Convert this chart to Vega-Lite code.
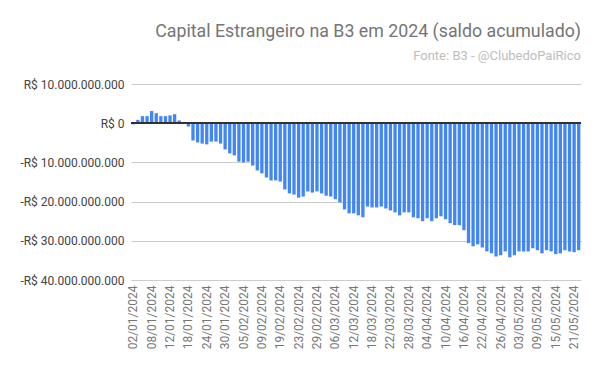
{
  "$schema": "https://vega.github.io/schema/vega-lite/v6.json",
  "width": 450,
  "height": 196,
  "autosize": {"type": "none"},
  "padding": {"left": 131, "top": 84, "right": 19, "bottom": 91},
  "background": "white",
  "title": {
    "text": "Capital Estrangeiro na B3 em 2024 (saldo acumulado)",
    "subtitle": "Fonte: B3 - @ClubedoPaiRico",
    "anchor": "end",
    "frame": "group",
    "font": "Roboto",
    "fontSize": 17.8,
    "fontWeight": "normal",
    "color": "#757575",
    "subtitleFont": "Roboto",
    "subtitleFontSize": 13,
    "subtitleColor": "#bdbdbd",
    "subtitlePadding": 9,
    "offset": 15
  },
  "config": {
    "view": {"stroke": null},
    "locale": {
      "number": {"decimal": ",", "thousands": ".", "grouping": [3], "currency": ["R$ ", ""], "minus": "-"}
    }
  },
  "data": {
    "values": [
      {"data": "02/01/2024", "saldo": -300000000},
      {"data": "03/01/2024", "saldo": 850000000},
      {"data": "04/01/2024", "saldo": 1800000000},
      {"data": "05/01/2024", "saldo": 1800000000},
      {"data": "08/01/2024", "saldo": 3100000000},
      {"data": "09/01/2024", "saldo": 2550000000},
      {"data": "10/01/2024", "saldo": 1800000000},
      {"data": "11/01/2024", "saldo": 1800000000},
      {"data": "12/01/2024", "saldo": 2000000000},
      {"data": "15/01/2024", "saldo": 2300000000},
      {"data": "16/01/2024", "saldo": 700000000},
      {"data": "17/01/2024", "saldo": -100000000},
      {"data": "18/01/2024", "saldo": -850000000},
      {"data": "19/01/2024", "saldo": -4400000000},
      {"data": "22/01/2024", "saldo": -4900000000},
      {"data": "23/01/2024", "saldo": -5200000000},
      {"data": "24/01/2024", "saldo": -5400000000},
      {"data": "25/01/2024", "saldo": -4700000000},
      {"data": "26/01/2024", "saldo": -4700000000},
      {"data": "29/01/2024", "saldo": -5200000000},
      {"data": "30/01/2024", "saldo": -6700000000},
      {"data": "31/01/2024", "saldo": -7700000000},
      {"data": "01/02/2024", "saldo": -8200000000},
      {"data": "02/02/2024", "saldo": -9800000000},
      {"data": "05/02/2024", "saldo": -10000000000},
      {"data": "06/02/2024", "saldo": -9800000000},
      {"data": "07/02/2024", "saldo": -10800000000},
      {"data": "08/02/2024", "saldo": -12050000000},
      {"data": "09/02/2024", "saldo": -12800000000},
      {"data": "14/02/2024", "saldo": -13850000000},
      {"data": "15/02/2024", "saldo": -14600000000},
      {"data": "16/02/2024", "saldo": -14600000000},
      {"data": "19/02/2024", "saldo": -14900000000},
      {"data": "20/02/2024", "saldo": -16900000000},
      {"data": "21/02/2024", "saldo": -17900000000},
      {"data": "22/02/2024", "saldo": -18200000000},
      {"data": "23/02/2024", "saldo": -19000000000},
      {"data": "26/02/2024", "saldo": -18700000000},
      {"data": "27/02/2024", "saldo": -17400000000},
      {"data": "28/02/2024", "saldo": -17700000000},
      {"data": "29/02/2024", "saldo": -17400000000},
      {"data": "01/03/2024", "saldo": -17900000000},
      {"data": "04/03/2024", "saldo": -18500000000},
      {"data": "05/03/2024", "saldo": -18700000000},
      {"data": "06/03/2024", "saldo": -19400000000},
      {"data": "07/03/2024", "saldo": -20200000000},
      {"data": "08/03/2024", "saldo": -22000000000},
      {"data": "11/03/2024", "saldo": -23000000000},
      {"data": "12/03/2024", "saldo": -23000000000},
      {"data": "13/03/2024", "saldo": -23500000000},
      {"data": "14/03/2024", "saldo": -24000000000},
      {"data": "15/03/2024", "saldo": -21250000000},
      {"data": "18/03/2024", "saldo": -21500000000},
      {"data": "19/03/2024", "saldo": -21500000000},
      {"data": "20/03/2024", "saldo": -21250000000},
      {"data": "21/03/2024", "saldo": -21750000000},
      {"data": "22/03/2024", "saldo": -22250000000},
      {"data": "25/03/2024", "saldo": -22750000000},
      {"data": "26/03/2024", "saldo": -23500000000},
      {"data": "27/03/2024", "saldo": -22750000000},
      {"data": "28/03/2024", "saldo": -22750000000},
      {"data": "01/04/2024", "saldo": -24000000000},
      {"data": "02/04/2024", "saldo": -24250000000},
      {"data": "03/04/2024", "saldo": -25000000000},
      {"data": "04/04/2024", "saldo": -24250000000},
      {"data": "05/04/2024", "saldo": -25000000000},
      {"data": "08/04/2024", "saldo": -24250000000},
      {"data": "09/04/2024", "saldo": -23750000000},
      {"data": "10/04/2024", "saldo": -24500000000},
      {"data": "11/04/2024", "saldo": -25500000000},
      {"data": "12/04/2024", "saldo": -26000000000},
      {"data": "15/04/2024", "saldo": -26000000000},
      {"data": "16/04/2024", "saldo": -27300000000},
      {"data": "17/04/2024", "saldo": -30600000000},
      {"data": "18/04/2024", "saldo": -31400000000},
      {"data": "19/04/2024", "saldo": -30900000000},
      {"data": "22/04/2024", "saldo": -31700000000},
      {"data": "23/04/2024", "saldo": -32700000000},
      {"data": "24/04/2024", "saldo": -33200000000},
      {"data": "25/04/2024", "saldo": -34000000000},
      {"data": "26/04/2024", "saldo": -33700000000},
      {"data": "29/04/2024", "saldo": -32700000000},
      {"data": "30/04/2024", "saldo": -34200000000},
      {"data": "02/05/2024", "saldo": -33700000000},
      {"data": "03/05/2024", "saldo": -32700000000},
      {"data": "06/05/2024", "saldo": -32700000000},
      {"data": "07/05/2024", "saldo": -32700000000},
      {"data": "08/05/2024", "saldo": -31900000000},
      {"data": "09/05/2024", "saldo": -32400000000},
      {"data": "10/05/2024", "saldo": -33200000000},
      {"data": "13/05/2024", "saldo": -32400000000},
      {"data": "14/05/2024", "saldo": -32700000000},
      {"data": "15/05/2024", "saldo": -33400000000},
      {"data": "16/05/2024", "saldo": -33200000000},
      {"data": "17/05/2024", "saldo": -32400000000},
      {"data": "20/05/2024", "saldo": -32700000000},
      {"data": "21/05/2024", "saldo": -32900000000},
      {"data": "22/05/2024", "saldo": -32400000000}
    ]
  },
  "layer": [
    {
      "mark": {"type": "bar", "color": "#4285F4"},
      "encoding": {
        "x": {
          "field": "data",
          "type": "ordinal",
          "sort": null,
          "scale": {"paddingInner": 0.28, "paddingOuter": 0.14},
          "axis": {
            "title": null,
            "values": ["02/01/2024", "08/01/2024", "12/01/2024", "18/01/2024", "24/01/2024", "30/01/2024", "05/02/2024", "09/02/2024", "19/02/2024", "23/02/2024", "29/02/2024", "06/03/2024", "12/03/2024", "18/03/2024", "22/03/2024", "28/03/2024", "04/04/2024", "10/04/2024", "16/04/2024", "22/04/2024", "26/04/2024", "03/05/2024", "09/05/2024", "15/05/2024", "21/05/2024"],
            "labelAngle": -90,
            "labelFont": "Roboto",
            "labelFontSize": 12,
            "labelColor": "#757575",
            "labelPadding": 5,
            "labelOverlap": false,
            "ticks": false,
            "domain": false,
            "grid": false
          }
        },
        "y": {
          "field": "saldo",
          "type": "quantitative",
          "scale": {"domain": [-40000000000, 10000000000], "nice": false},
          "axis": {
            "title": null,
            "values": [-40000000000, -30000000000, -20000000000, -10000000000, 0, 10000000000],
            "tickCount": 12,
            "format": "$,.0f",
            "labelFont": "Roboto",
            "labelFontSize": 12,
            "labelColor": "#444444",
            "labelPadding": 7,
            "labelOverlap": false,
            "labelBound": false,
            "labelFlush": false,
            "ticks": false,
            "domain": false,
            "grid": true,
            "gridColor": "#cccccc",
            "gridOpacity": 1
          }
        }
      }
    },
    {
      "mark": {"type": "rule", "color": "#333333", "strokeWidth": 1},
      "encoding": {"y": {"datum": 0}}
    }
  ]
}
